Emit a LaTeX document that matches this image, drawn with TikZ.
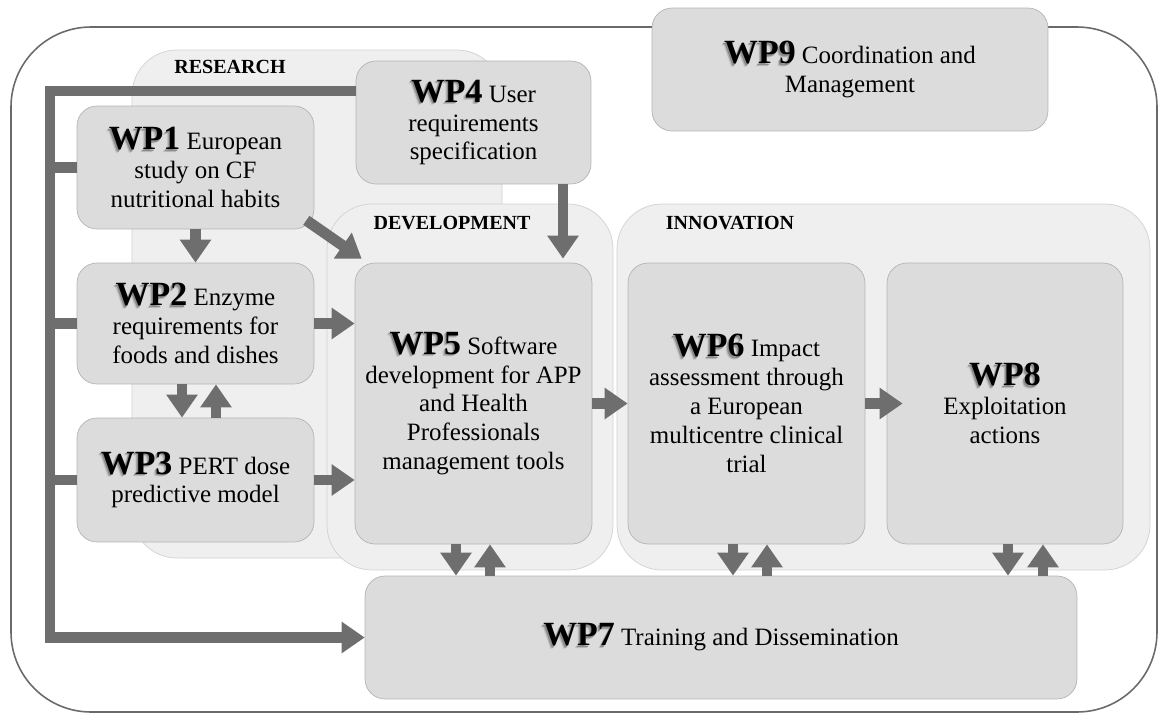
\documentclass[tikz,border=0pt]{standalone}
\usepackage{fontspec}
\setmainfont{Liberation Serif}
\usetikzlibrary{arrows.meta,calc}

\definecolor{boxgray}{HTML}{DCDCDC}
\definecolor{boxline}{HTML}{B4B4B4}
\definecolor{panelgray}{HTML}{EFEFEF}
\definecolor{panelline}{HTML}{D2D2D2}
\definecolor{arrowgray}{HTML}{6E6E6E}
\definecolor{framegray}{HTML}{6A6A6A}

\newcommand{\wpshade}[3]{\makebox[0pt][l]{\kern-#1\raisebox{-#1}{\textcolor{black!#2}{\bfseries WP#3}}}}
\newcommand{\wpname}[1]{{\fontsize{19.3pt}{16.4pt}\selectfont\wpshade{2pt}{15}{#1}\wpshade{1.4pt}{28}{#1}\wpshade{0.8pt}{45}{#1}\textbf{WP#1}}}

\tikzset{
  wpbox/.style={draw=boxline, fill=boxgray, rounded corners=0.4cm, align=center, inner sep=0pt,
    font=\fontsize{14.2pt}{16.4pt}\selectfont},
  panel/.style={draw=panelline, fill=panelgray, rounded corners=0.9cm},
  flow/.style={draw=arrowgray, line width=6.2pt, -{Triangle[width=0.6cm,length=0.46cm]}},
  bus/.style={draw=arrowgray, line width=6.2pt},
  panellabel/.style={font=\fontsize{11.4pt}{13pt}\selectfont\bfseries},
}

\begin{document}
\begin{tikzpicture}[x=0.02cm,y=-0.02cm]
\useasboundingbox (0,0) rectangle (1161,714);
\draw[framegray, line width=0.9pt, rounded corners=1.6cm] (11,27) rectangle (1157,712);

\draw[panel] (132,50) rectangle (502,558);
\node[panellabel] (research) at (230,67) {RESEARCH};

\node[wpbox, minimum width=4.70cm, minimum height=2.46cm] (wp4) at (473.5,122.5) {\wpname{4} User\\requirements\\specification};
\node[wpbox, minimum width=7.92cm, minimum height=2.46cm] (wp9) at (850,69.5) {\wpname{9} Coordination and\\Management};

\draw[panel] (327,204) rectangle (613,570);
\draw[panel] (617,204) rectangle (1150,570);
\node[panellabel] (development) at (452,223) {DEVELOPMENT};
\node[panellabel] (innovation) at (730,223) {INNOVATION};

\node[wpbox, minimum width=4.74cm, minimum height=2.46cm] (wp1) at (195.5,167.5) {\wpname{1} European\\study on CF\\nutritional habits};
\node[wpbox, minimum width=4.74cm, minimum height=2.42cm] (wp2) at (195.5,323.5) {\wpname{2} Enzyme\\requirements for\\foods and dishes};
\node[wpbox, minimum width=4.74cm, minimum height=2.48cm] (wp3) at (195.5,480) {\wpname{3} PERT dose\\predictive model};
\node[wpbox, minimum width=4.74cm, minimum height=5.62cm] (wp5) at (473.5,403.5) {\wpname{5} Software\\development for APP\\and Health\\Professionals\\management tools};
\node[wpbox, minimum width=4.74cm, minimum height=5.62cm] (wp6) at (746.5,403.5) {\wpname{6} Impact\\assessment through\\a European\\multicentre clinical\\trial};
\node[wpbox, minimum width=4.72cm, minimum height=5.62cm] (wp8) at (1005,403.5) {\wpname{8}\\Exploitation\\actions};
\node[wpbox, minimum width=14.24cm, minimum height=2.46cm] (wp7) at (721,637.5) {\wpname{7} Training and Dissemination};

\coordinate (bus) at (50,91);
\draw[flow] ($(wp4.west)+(0,-31.5)$) -- (bus) -- (bus |- wp7.west) -- (wp7.west);
\foreach \n in {1,2,3}
  \draw[bus] (bus |- wp\n.west) -- (wp\n.west);

\draw[flow] (wp1.south) -- (wp2.north);
\draw[flow] ($(wp1.south east)+(-8,-9)$) -- ($(wp5.north west)+(7,-4)$);
\coordinate (a4) at ($(wp4.south)+(89.5,0)$);
\draw[flow] (a4) -- ($(a4 |- wp5.north)+(0,-4)$);

\coordinate (d2) at ($(wp2.south)+(-13.5,0)$);
\coordinate (u2) at ($(wp2.south)+(20.5,0)$);
\draw[flow] (d2) -- (d2 |- wp3.north);
\draw[flow] (u2 |- wp3.north) -- (u2);

\draw[flow] (wp2.east) -- (wp2.east -| wp5.west);
\draw[flow] (wp3.east) -- (wp3.east -| wp5.west);
\draw[flow] (wp5.east) -- (wp6.west);
\draw[flow] (wp6.east) -- ($(wp8.west)+(16,0)$);

\foreach \n/\d/\u in {5/-17.5/16.5, 6/-13.5/20.5, 8/3/38}{
  \coordinate (d) at ($(wp\n.south)+(\d,0)$);
  \coordinate (u) at ($(wp\n.south)+(\u,0)$);
  \draw[flow] (d) -- (d |- wp7.north);
  \draw[flow] (u |- wp7.north) -- (u);
}
\end{tikzpicture}
\end{document}
